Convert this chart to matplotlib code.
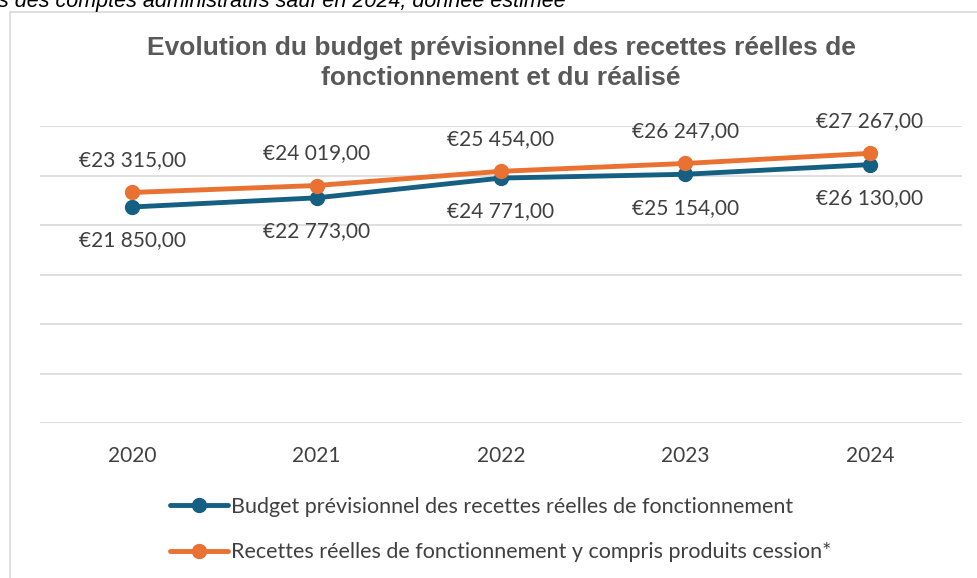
import matplotlib.pyplot as plt
import matplotlib.patches as patches

years = ["2020", "2021", "2022", "2023", "2024"]
budget_prev = [21850, 22773, 24771, 25154, 26130]
recettes_reelles = [23315, 24019, 25454, 26247, 27267]
series_names = ["Budget prévisionnel des recettes réelles de fonctionnement",
                "Recettes réelles de fonctionnement y compris produits cession*"]
title = "Evolution du budget prévisionnel des recettes réelles de\nfonctionnement et du réalisé"
note = "s des comptes administratifs sauf en 2024, donnée estimée"

blue = "#156082"
orange = "#E97132"
txt = "#404040"

plt.rcParams['font.family'] = ['Lato', 'DejaVu Sans']

fig = plt.figure(figsize=(9.77, 5.78), dpi=100)
W, H = 977, 578

# chart border box
fig.patches.append(patches.Rectangle((10 / W, -0.1), 1.2, 1 - 12 / H + 0.1, transform=fig.transFigure,
                                     fill=False, edgecolor="#d9d9d9", linewidth=1.2))

fig.text(-2 / W, 1 - 7 / H, note, fontsize=15.5, style='italic', family='Liberation Sans',
         va='baseline', ha='left', color='black')

fig.text(501 / W, 1 - 63 / H, title, fontsize=19, fontweight='bold', family='Liberation Sans',
         color='#595959', ha='center', va='center', linespacing=1.3)

ax = fig.add_axes([40 / W, 1 - 423.3 / H, (962 - 40) / W, (423.3 - 126.3) / H])
x = list(range(len(years)))
l1, = ax.plot(x, budget_prev, color=blue, lw=3.5, marker='o', ms=10, zorder=3,
              solid_capstyle='round', label=series_names[0])
l2, = ax.plot(x, recettes_reelles, color=orange, lw=3.5, marker='o', ms=10, zorder=4,
              solid_capstyle='round', label=series_names[1])

def fmt(v):
    return "€" + f"{v:,}".replace(",", " ") + ",00"

for xi, v in zip(x, budget_prev):
    ax.annotate(fmt(v), (xi, v), xytext=(0, -24), textcoords='offset points',
                ha='center', va='center', fontsize=15, color=txt)
for xi, v in zip(x, recettes_reelles):
    ax.annotate(fmt(v), (xi, v), xytext=(0, 23), textcoords='offset points',
                ha='center', va='center', fontsize=15, color=txt)

ax.set_xlim(-0.5, 4.5)
ax.set_ylim(0, 30000)
ax.set_yticks(range(0, 30001, 5000))
ax.set_xticks(x)
ax.set_xticklabels(years, fontsize=15, color=txt)
ax.tick_params(axis='x', length=0, pad=16)
ax.tick_params(axis='y', length=0, labelleft=False)
ax.grid(axis='y', color='#d9d9d9', lw=1.2)
ax.set_axisbelow(True)
for s in ax.spines.values():
    s.set_visible(False)

fig.legend(handles=[l1, l2], loc='center left', bbox_to_anchor=(170 / W, 1 - 529.5 / H),
           frameon=False, fontsize=15.5, handlelength=2.7, handletextpad=0.12,
           borderpad=0, borderaxespad=0, labelspacing=1.2, labelcolor=txt)

fig.savefig("out.png", dpi=100)
